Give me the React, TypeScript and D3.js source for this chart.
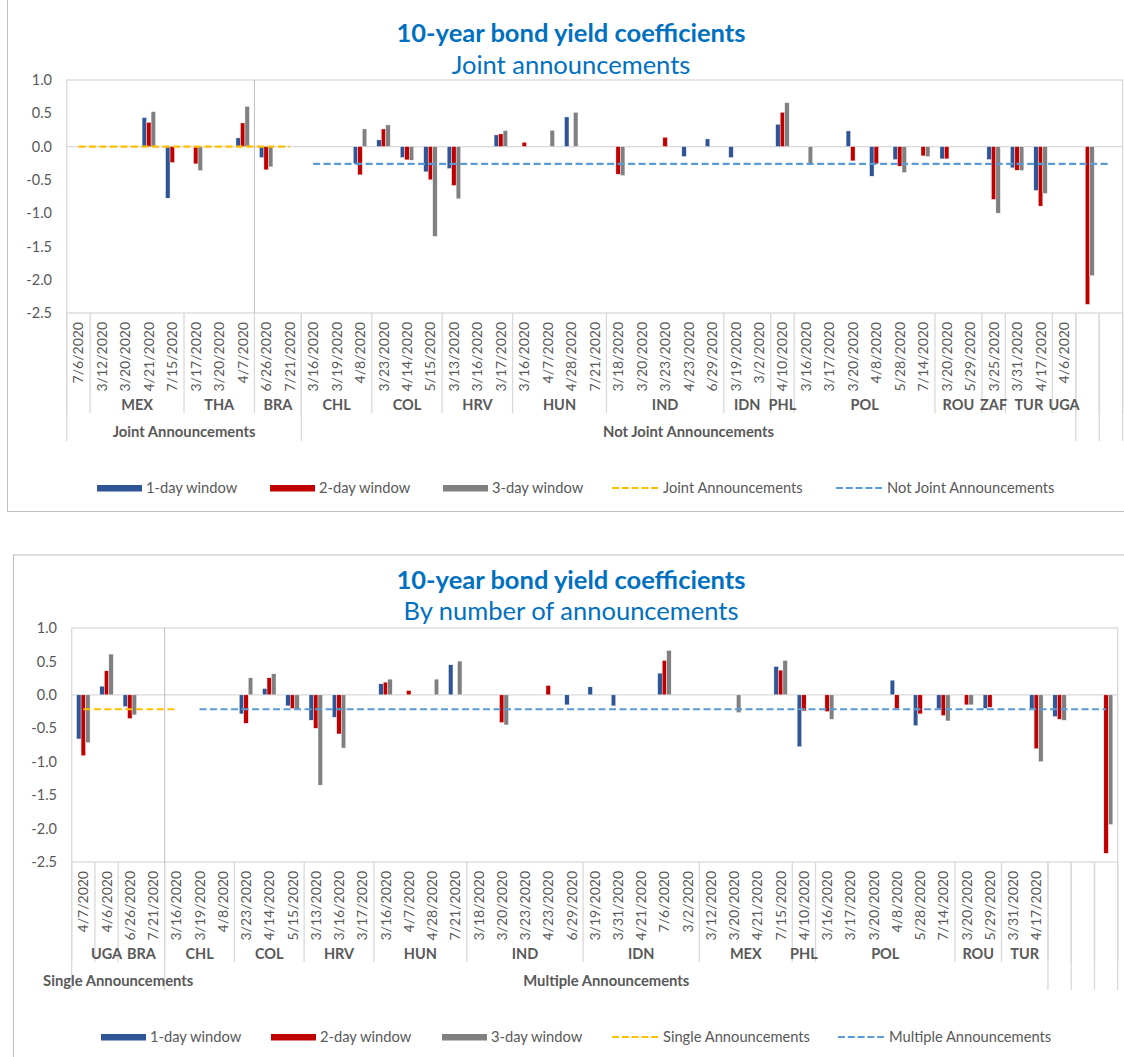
import React, { useEffect } from "react";
import * as d3 from "d3";

// ---------------- DATA: top chart ----------------
const topDates = [
  "7/6/2020",
  "3/12/2020", "3/20/2020", "4/21/2020", "7/15/2020",
  "3/17/2020", "3/20/2020", "4/7/2020",
  "6/26/2020", "7/21/2020",
  "3/16/2020", "3/19/2020", "4/8/2020",
  "3/23/2020", "4/14/2020", "5/15/2020",
  "3/13/2020", "3/16/2020", "3/17/2020",
  "3/16/2020", "4/7/2020", "4/28/2020", "7/21/2020",
  "3/18/2020", "3/20/2020", "3/23/2020", "4/23/2020", "6/29/2020",
  "3/19/2020", "3/2/2020",
  "4/10/2020",
  "3/16/2020", "3/17/2020", "3/20/2020", "4/8/2020", "5/28/2020", "7/14/2020",
  "3/20/2020", "5/29/2020",
  "3/25/2020",
  "3/31/2020", "4/17/2020",
  "4/6/2020",
  "", "",
];
const topCountries: [string, number][] = [
  ["", 1], ["MEX", 4], ["THA", 3], ["BRA", 2], ["CHL", 3], ["COL", 3], ["HRV", 3],
  ["HUN", 4], ["IND", 5], ["IDN", 2], ["PHL", 1], ["POL", 6], ["ROU", 2], ["ZAF", 1],
  ["TUR", 2], ["UGA", 1], ["", 1], ["", 1],
];
const topSections: [string, number][] = [
  ["Joint Announcements", 10], ["Not Joint Announcements", 33], ["", 1], ["", 1],
];
const top1Day = [
  null, null, null, 0.435, -0.775, null, null, 0.13, -0.165, null,
  null, null, -0.26, 0.1, -0.165, -0.38, -0.33, null, 0.175, null,
  null, 0.445, null, null, null, null, -0.15, 0.115, -0.165, null,
  0.335, null, null, 0.235, -0.445, -0.195, null, -0.185, null, -0.195,
  -0.32, -0.66, null, null, null,
];
const top2Day = [
  null, null, null, 0.365, -0.24, -0.26, null, 0.355, -0.35, null,
  null, null, -0.425, 0.265, -0.2, -0.5, -0.585, null, 0.19, 0.065,
  null, null, null, -0.415, null, 0.14, null, null, null, null,
  0.515, null, null, -0.215, -0.26, -0.295, -0.14, -0.185, null, -0.795,
  -0.355, -0.895, null, -2.37, null,
];
const top3Day = [
  null, null, null, 0.525, null, -0.36, null, 0.605, -0.305, null,
  null, null, 0.265, 0.325, -0.205, -1.35, -0.785, null, 0.24, null,
  0.245, 0.515, null, -0.435, null, null, null, null, null, null,
  0.66, -0.25, null, null, null, -0.39, -0.15, null, null, -1.0,
  -0.36, -0.705, null, -1.94, null,
];
const topJointMean = 0.0;
const topJointRange = [0, 9];
const topNotJointMean = -0.26;
const topNotJointRange = [10, 44];

// ---------------- DATA: bottom chart ----------------
const botDates = [
  "4/7/2020", "4/6/2020", "6/26/2020", "7/21/2020",
  "3/16/2020", "3/19/2020", "4/8/2020",
  "3/23/2020", "4/14/2020", "5/15/2020",
  "3/13/2020", "3/16/2020", "3/17/2020",
  "3/16/2020", "4/7/2020", "4/28/2020", "7/21/2020",
  "3/18/2020", "3/20/2020", "3/23/2020", "4/23/2020", "6/29/2020",
  "3/19/2020", "3/31/2020", "4/21/2020", "7/6/2020", "3/2/2020",
  "3/12/2020", "3/20/2020", "4/21/2020", "7/15/2020",
  "4/10/2020",
  "3/16/2020", "3/17/2020", "3/20/2020", "4/8/2020", "5/28/2020", "7/14/2020",
  "3/20/2020", "5/29/2020",
  "3/31/2020", "4/17/2020",
  "", "", "",
];
const botCountries: [string, number][] = [
  ["", 1], ["UGA", 1], ["BRA", 2], ["CHL", 3], ["COL", 3], ["HRV", 3], ["HUN", 4],
  ["IND", 5], ["IDN", 5], ["MEX", 4], ["PHL", 1], ["POL", 6], ["ROU", 2], ["TUR", 2],
  ["", 1], ["", 1], ["", 1],
];
const botSections: [string, number][] = [
  ["Single Announcements", 4], ["Multiple Announcements", 38], ["", 1], ["", 1], ["", 1],
];
const bot1Day = [
  -0.66, 0.13, -0.175, null, null, null, null, -0.285, 0.095, -0.165,
  -0.38, -0.335, null, 0.165, null, null, 0.45, null, null, null,
  null, -0.15, 0.12, -0.165, null, 0.325, null, null, null, null,
  0.425, -0.775, null, null, null, 0.22, -0.46, -0.205, null, -0.205,
  null, -0.205, -0.325, null, null,
];
const bot2Day = [
  -0.91, 0.36, -0.355, null, null, null, null, -0.425, 0.255, -0.205,
  -0.5, -0.585, null, 0.19, 0.065, null, null, null, -0.415, null,
  0.14, null, null, null, null, 0.515, null, null, null, null,
  0.37, -0.24, -0.25, null, null, -0.205, -0.285, -0.31, -0.15, -0.185,
  null, -0.805, -0.365, null, -2.37,
];
const bot3Day = [
  -0.715, 0.61, -0.3, null, null, null, null, 0.255, 0.315, -0.215,
  -1.35, -0.795, null, 0.235, null, 0.235, 0.505, null, -0.45, null,
  null, null, null, null, null, 0.665, null, null, -0.265, null,
  0.515, null, -0.365, null, null, null, null, -0.39, -0.15, null,
  null, -1.0, -0.38, null, -1.94,
];
const botSingleMean = -0.215;
const botSingleRange = [0, 4];
const botMultipleMean = -0.215;
const botMultipleRange = [5, 44];

const yTicks = [1.0, 0.5, 0.0, -0.5, -1.0, -1.5, -2.0, -2.5];
const seriesNames = ["1-day window", "2-day window", "3-day window"];

// ---------------- styles ----------------
const COLORS = ["#2F5597", "#C00000", "#808080"];
const YELLOW = "#FFC000";
const LBLUE = "#5B9BD5";
const GRID = "#D9D9D9";
const TXT = "#595959";
const TITLE = "#0070C0";
const FONT = "Lato, 'Open Sans', sans-serif";

type ChartCfg = {
  frame: { x: number; y: number; w: number; h: number };
  plot: { left: number; right: number; top: number; bottom: number };
  titleY: number;
  subY: number;
  tickRight: number;
  title: string;
  subtitle: string;
  dates: string[];
  countries: [string, number][];
  sections: [string, number][];
  series: (number | null)[][];
  lines: { name: string; mean: number; range: number[]; color: string }[];
  separatorIndex: number;
  legendX: number[];
};

function Chart({ cfg }: { cfg: ChartCfg }) {
  const { plot } = cfg;
  const n = cfg.dates.length;
  const x = d3
    .scaleBand<number>()
    .domain(d3.range(n))
    .range([plot.left, plot.right])
    .padding(0);
  const step = x.step();
  const groupW = 13.5;
  const xs = d3.scaleBand<number>().domain([0, 1, 2]).range([0, groupW]).padding(0);
  const y = d3.scaleLinear().domain([-2.5, 1.0]).range([plot.bottom, plot.top]);
  const y0 = y(0);
  const catCenter = (i: number) => (x(i) as number) + step / 2;
  const boundary = (i: number) => plot.left + i * step;

  const countryBounds: number[] = [0];
  let acc = 0;
  cfg.countries.forEach(([, c]) => {
    acc += c;
    countryBounds.push(acc);
  });
  const sectionBounds: number[] = [0];
  acc = 0;
  cfg.sections.forEach(([, c]) => {
    acc += c;
    sectionBounds.push(acc);
  });

  const b = plot.bottom;

  return (
    <g fontFamily={FONT}>
      <rect
        x={cfg.frame.x}
        y={cfg.frame.y}
        width={cfg.frame.w}
        height={cfg.frame.h}
        fill="#fff"
        stroke="#BFBFBF"
        strokeWidth={1}
      />
      <text x={571} y={cfg.titleY} textAnchor="middle" fontSize={25.5} fontWeight="bold" fill={TITLE}>
        {cfg.title}
      </text>
      <text x={571} y={cfg.subY} textAnchor="middle" fontSize={25.5} fill={TITLE}>
        {cfg.subtitle}
      </text>

      <rect
        x={plot.left}
        y={plot.top}
        width={plot.right - plot.left}
        height={plot.bottom - plot.top}
        fill="none"
        stroke={GRID}
        strokeWidth={1.3}
      />
      <line x1={plot.left} x2={plot.right} y1={y0} y2={y0} stroke={GRID} strokeWidth={1.3} />
      <line
        x1={boundary(cfg.separatorIndex)}
        x2={boundary(cfg.separatorIndex)}
        y1={plot.top}
        y2={plot.bottom}
        stroke="#BFBFBF"
        strokeWidth={1}
      />

      {yTicks.map((t) => (
        <text
          key={t}
          x={cfg.tickRight}
          y={y(t)}
          dy="0.35em"
          textAnchor="end"
          fontSize={14.5}
          fill={TXT}
        >
          {d3.format(".1f")(t).replace("−", "-")}
        </text>
      ))}

      {cfg.series.map((vals, s) =>
        vals.map((v, i) =>
          v === null ? null : (
            <rect
              key={`b${s}-${i}`}
              x={catCenter(i) - groupW / 2 + (xs(s) as number)}
              width={xs.bandwidth()}
              y={Math.min(y(v), y0)}
              height={Math.abs(y(v) - y0)}
              fill={COLORS[s]}
              stroke="#fff"
              strokeWidth={0.4}
            />
          )
        )
      )}

      {cfg.lines.map((l) => {
        const idx = d3.range(l.range[0], l.range[1] + 1);
        const path = d3
          .line<number>()
          .x((i) => catCenter(i))
          .y(() => y(l.mean))(idx);
        return (
          <path
            key={l.name}
            d={path || ""}
            fill="none"
            stroke={l.color}
            strokeWidth={2.2}
            strokeDasharray="7 3.5"
          />
        );
      })}

      {countryBounds.map((c, k) => (
        <line
          key={`cb${k}`}
          x1={boundary(c)}
          x2={boundary(c)}
          y1={b}
          y2={b + 100}
          stroke={GRID}
          strokeWidth={1.3}
        />
      ))}
      {sectionBounds.map((c, k) => (
        <line
          key={`sb${k}`}
          x1={boundary(c)}
          x2={boundary(c)}
          y1={b}
          y2={b + 128}
          stroke={GRID}
          strokeWidth={1.3}
        />
      ))}

      {cfg.dates.map((d, i) => (
        <text
          key={`d${i}`}
          transform={`translate(${catCenter(i)},${b + 9}) rotate(-90)`}
          textAnchor="end"
          dy="0.36em"
          fontSize={14}
          fill={TXT}
        >
          {d}
        </text>
      ))}

      {cfg.countries.map(([name, c], k) => {
        const s = countryBounds[k];
        const cx = (boundary(s) + boundary(s + c)) / 2;
        return (
          <text
            key={`c${k}`}
            x={cx}
            y={b + 92}
            dy="0.35em"
            textAnchor="middle"
            fontSize={14.5}
            fontWeight="bold"
            fill={TXT}
          >
            {name}
          </text>
        );
      })}

      {cfg.sections.map(([name, c], k) => {
        const s = sectionBounds[k];
        const cx = (boundary(s) + boundary(s + c)) / 2;
        return (
          <text
            key={`s${k}`}
            x={cx}
            y={b + 119}
            dy="0.35em"
            textAnchor="middle"
            fontSize={14.8}
            fontWeight="bold"
            fill={TXT}
          >
            {name}
          </text>
        );
      })}

      {seriesNames.map((nm, s) => (
        <g key={nm} transform={`translate(${cfg.legendX[s]},${b + 175})`}>
          <rect x={0} y={-3} width={45} height={6.5} fill={COLORS[s]} />
          <text x={49} y={0} dy="0.35em" fontSize={14.7} fill={TXT}>
            {nm}
          </text>
        </g>
      ))}
      {cfg.lines.map((l, k) => (
        <g key={`ll${k}`} transform={`translate(${cfg.legendX[3 + k]},${b + 175})`}>
          <line x1={0} x2={46} y1={0} y2={0} stroke={l.color} strokeWidth={2} strokeDasharray="7 2.8" />
          <text x={51} y={0} dy="0.35em" fontSize={14.7} fill={TXT}>
            {l.name}
          </text>
        </g>
      ))}
    </g>
  );
}

export default function App() {
  useEffect(() => {
    document.body.style.margin = "0";
    document.body.style.overflow = "hidden";
  }, []);

  const topCfg: ChartCfg = {
    frame: { x: 7.5, y: -2, w: 1130, h: 513.5 },
    plot: { left: 66.7, right: 1122.7, top: 80, bottom: 313 },
    titleY: 42,
    subY: 74,
    tickRight: 52,
    title: "10-year bond yield coefficients",
    subtitle: "Joint announcements",
    dates: topDates,
    countries: topCountries,
    sections: topSections,
    series: [top1Day, top2Day, top3Day],
    lines: [
      { name: "Joint Announcements", mean: topJointMean, range: topJointRange, color: YELLOW },
      { name: "Not Joint Announcements", mean: topNotJointMean, range: topNotJointRange, color: LBLUE },
    ],
    separatorIndex: 8,
    legendX: [97, 270, 443, 612, 836],
  };

  const botCfg: ChartCfg = {
    frame: { x: 13.5, y: 555, w: 1130, h: 520 },
    plot: { left: 71.7, right: 1117.7, top: 628, bottom: 862 },
    titleY: 589,
    subY: 620,
    tickRight: 57,
    title: "10-year bond yield coefficients",
    subtitle: "By number of announcements",
    dates: botDates,
    countries: botCountries,
    sections: botSections,
    series: [bot1Day, bot2Day, bot3Day],
    lines: [
      { name: "Single Announcements", mean: botSingleMean, range: botSingleRange, color: YELLOW },
      { name: "Multiple Announcements", mean: botMultipleMean, range: botMultipleRange, color: LBLUE },
    ],
    separatorIndex: 4,
    legendX: [101, 271, 442, 612, 838],
  };

  return (
    <div style={{ position: "absolute", left: 0, top: 0 }}>
      <svg width={1124} height={1057} style={{ display: "block", background: "#fff" }}>
        <Chart cfg={topCfg} />
        <Chart cfg={botCfg} />
      </svg>
    </div>
  );
}
